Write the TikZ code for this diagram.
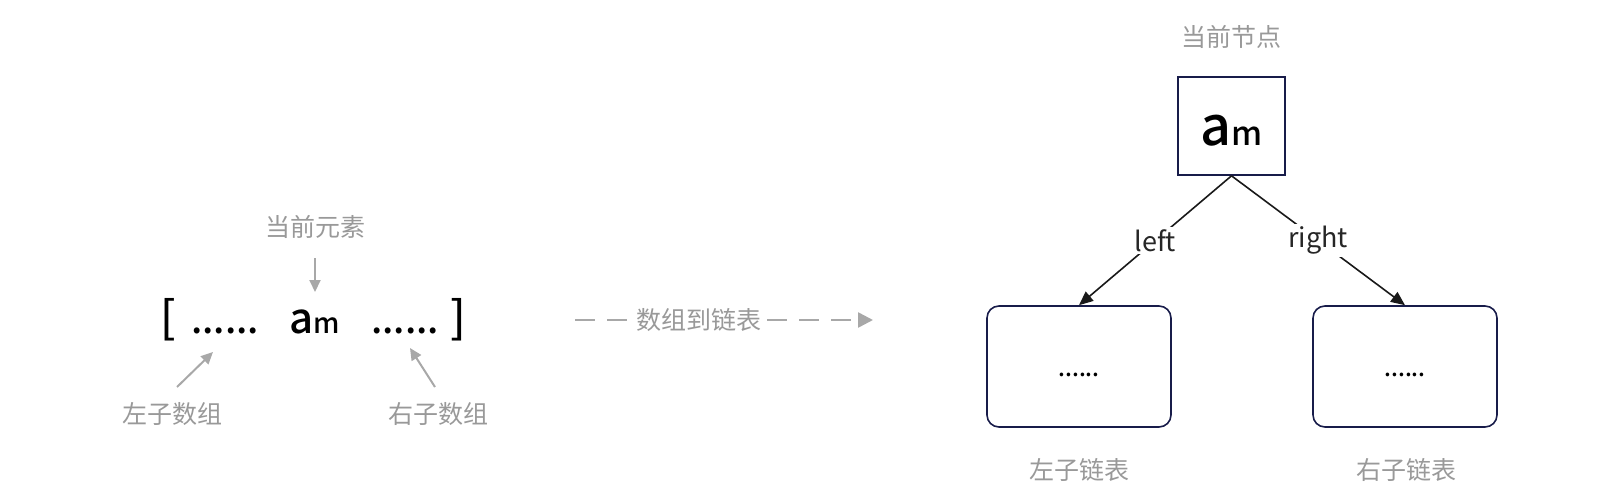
\documentclass[tikz,border=0pt]{standalone}
\usepackage{fontspec}
\setmainfont{Noto Sans CJK SC}
\newfontfamily\medfont{Noto Sans CJK SC Medium}
\usepackage{tikz}
\usetikzlibrary{arrows.meta,positioning}

\definecolor{labelgray}{RGB}{153,153,153}
\definecolor{linegray}{RGB}{168,168,168}
\definecolor{boxnavy}{RGB}{24,28,74}

\begin{document}
\begin{tikzpicture}[x=1pt,y=-1pt,
  caption/.style={text=labelgray,font=\fontsize{25}{30}\selectfont,inner sep=0pt},
  glyph/.style={anchor=base,inner sep=0pt,font=\medfont\fontsize{38}{40}\selectfont},
  pointer/.style={draw=linegray,line width=2pt,-{Triangle[length=12pt,width=11pt]}},
  convert/.style={draw=linegray,line width=2.5pt,dash pattern=on 20pt off 12pt,-{Triangle[length=15pt,width=15pt]}},
  treenode/.style={draw=boxnavy,line width=1.6pt,minimum width=107pt,minimum height=98pt,inner sep=0pt,text height=38pt,text depth=0pt,font=\medfont},
  sublist/.style={draw=boxnavy,line width=1.6pt,rounded corners=12pt,minimum width=184pt,minimum height=121pt,inner sep=0pt,text height=19pt,text depth=0pt,font=\medfont\fontsize{23}{25}\selectfont},
  edge/.style={draw=black!90,line width=1.6pt,-{Triangle[length=14pt,width=12pt]}},
  edgelabel/.style={fill=white,inner sep=2pt,text=black!85,font=\fontsize{27}{30}\selectfont}]
\useasboundingbox (0,0) rectangle (1622,498);

% array side
\node[glyph,font=\medfont\fontsize{44}{46}\selectfont] (lbr) at (168,333) {[};
\node[glyph] (ldots) at (225,333) {......};
\node[glyph] (am) at (315,333) {{\fontsize{42}{44}\selectfont a}{\fontsize{28}{30}\selectfont m}};
\node[glyph] (rdots) at (405,333) {......};
\node[glyph,font=\medfont\fontsize{44}{46}\selectfont] (rbr) at (458,333) {]};

\node[caption] (curelem) at (315,227) {当前元素};
\node[caption] (lsubarr) at (172,414) {左子数组};
\node[caption] (rsubarr) at (438,414) {右子数组};

\coordinate (ctail) at (315,258);
\coordinate (chead) at (315,292);
\coordinate (ltail) at (177,387);
\coordinate (lhead) at (213,352);
\coordinate (rtail) at (435,387);
\coordinate (rhead) at (410,348);
\draw[pointer] (ctail) -- (chead);
\draw[pointer] (ltail) -- (lhead);
\draw[pointer] (rtail) -- (rhead);

% conversion
\coordinate (convfrom) at (575,320);
\coordinate (convto) at (873,320);
\draw[convert] (convfrom) -- node[caption,pos=0.416,fill=white,inner xsep=5pt,inner ysep=2pt] (convlabel) {数组到链表} (convto);

% list side
\node[caption] (curtitle) at (1231,37) {当前节点};
\node[treenode] (cur) at (1231.5,126) {{\fontsize{54}{56}\selectfont a}{\fontsize{33}{35}\selectfont m}};
\node[sublist] (lsub) at (1079,366.5) {......};
\node[sublist] (rsub) at (1405,366.5) {......};
\node[caption] (lsubtitle) at (1079,470) {左子链表};
\node[caption] (rsubtitle) at (1406,470) {右子链表};

\draw[edge] (cur.south) -- node[edgelabel,midway] (leftlabel) {left} (lsub.north);
\draw[edge] (cur.south) -- node[edgelabel,midway] (rightlabel) {right} (rsub.north);
\end{tikzpicture}
\end{document}
